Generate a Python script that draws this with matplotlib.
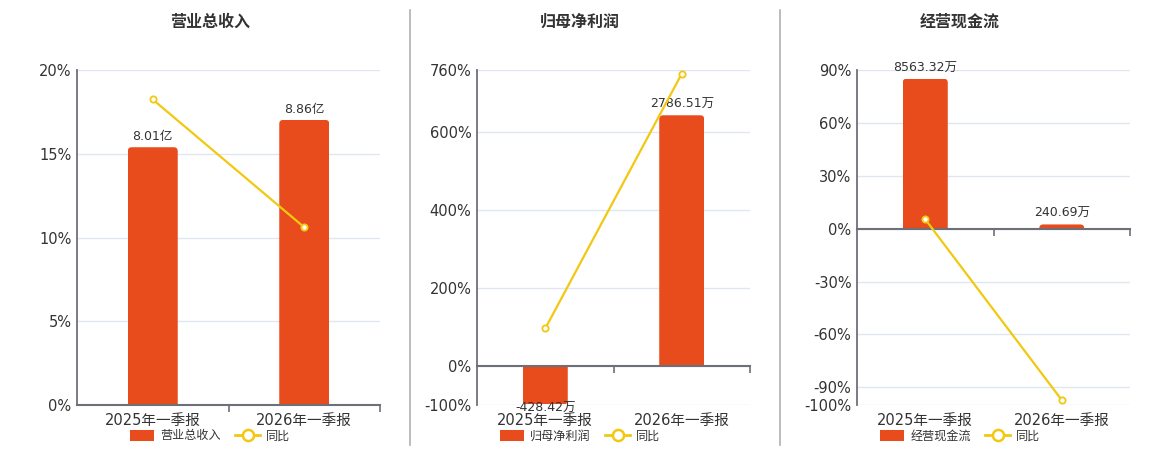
import matplotlib
matplotlib.use("Agg")
import matplotlib.pyplot as plt
from matplotlib.lines import Line2D
from matplotlib.patches import Patch, FancyBboxPatch

plt.rcParams['font.family'] = ['DejaVu Sans', 'Noto Sans CJK SC']
plt.rcParams['axes.unicode_minus'] = False

CATEGORIES = ["2025年一季报", "2026年一季报"]

TITLES = ["营业总收入", "归母净利润", "经营现金流"]

REVENUE = [8.01, 8.86]
REVENUE_LABELS = ["8.01亿", "8.86亿"]
REVENUE_YOY = [18.24, 10.61]

PROFIT = [-428.42, 2786.51]
PROFIT_LABELS = ["-428.42万", "2786.51万"]
PROFIT_YOY = [96.4, 750.4]

CASHFLOW = [8563.32, 240.69]
CASHFLOW_LABELS = ["8563.32万", "240.69万"]
CASHFLOW_YOY = [5.3, -97.19]

PCT_TICKS = [
    [0, 5, 10, 15, 20],
    [-100, 0, 200, 400, 600, 760],
    [-100, -90, -60, -30, 0, 30, 60, 90],
]

BAR_COLOR = "#e84c1d"
LINE_COLOR = "#f2c811"
AXIS_COLOR = "#6e7079"
GRID_COLOR = "#e0e6f1"
TEXT_COLOR = "#333333"

W, H = 1160, 450

fig = plt.figure(figsize=(W / 100, H / 100), dpi=100)

# pixel layout of each panel: (axes left, axes right, centre of title/legend)
panels = [
    (77, 380, 210),
    (477, 750, 580),
    (857, 1130, 960),
]
bar_ylims = [(0, 10.41), (-435, 3290), (-10070, 9060)]

data = [
    (REVENUE, REVENUE_LABELS, REVENUE_YOY),
    (PROFIT, PROFIT_LABELS, PROFIT_YOY),
    (CASHFLOW, CASHFLOW_LABELS, CASHFLOW_YOY),
]

x = list(range(len(CATEGORIES)))
top_px, bottom_px = 70, 405


def round_bar_ends(ax, bars, w_px, h_px, r_px=4):
    # swap each bar for a box with rounded outer end, clipped to the bar
    x0, x1 = ax.get_xlim()
    y0, y1 = ax.get_ylim()
    ux = (x1 - x0) / w_px
    uy = (y1 - y0) / h_px
    for rect in bars:
        bx, bw = rect.get_x(), rect.get_width()
        by, bh = rect.get_y(), rect.get_height()
        ext = r_px * uy
        if bh >= 0:
            start, height = by - ext, bh + ext
        else:
            start, height = by + bh, -bh + ext
        box = FancyBboxPatch((bx, start), bw, height,
                             boxstyle=f"round,pad=0,rounding_size={r_px * ux}",
                             mutation_aspect=uy / ux, facecolor=rect.get_facecolor(),
                             edgecolor="none", zorder=2)
        ax.add_patch(box)
        box.set_clip_path(rect)
        rect.set_facecolor("none")


for i, ((left, right, cx), (vals, labels, yoy)) in enumerate(zip(panels, data)):
    rect = [left / W, 1 - bottom_px / H, (right - left) / W, (bottom_px - top_px) / H]
    ax = fig.add_axes(rect)
    ticks = PCT_TICKS[i]
    ax.set_ylim(min(ticks), max(ticks))
    ax.set_xlim(-0.5, len(CATEGORIES) - 0.5)
    ax.set_yticks(ticks)
    ax.set_yticklabels([f"{t}%" for t in ticks])
    ax.yaxis.grid(True, color=GRID_COLOR, linewidth=1)
    ax.set_axisbelow(True)
    ax.set_xticks(x)
    ax.set_xticklabels(CATEGORIES)
    ax.tick_params(axis="x", length=0, pad=6, labelsize=10.5, colors=TEXT_COLOR)
    ax.tick_params(axis="y", length=0, pad=4, labelsize=10.5, colors=TEXT_COLOR)
    for s in ["top", "right", "bottom"]:
        ax.spines[s].set_visible(False)
    ax.spines["left"].set_color(AXIS_COLOR)
    ax.spines["left"].set_linewidth(1.3)

    # bars on a hidden twin axis
    axb = ax.twinx()
    axb.set_ylim(*bar_ylims[i])
    bars = axb.bar(x, vals, width=0.33, color=BAR_COLOR, linewidth=0, zorder=2)
    round_bar_ends(axb, bars, right - left, bottom_px - top_px)
    for xi, v, lab in zip(x, vals, labels):
        if v >= 0:
            axb.annotate(lab, (xi, v), xytext=(0, 3), textcoords="offset points",
                         ha="center", va="bottom", fontsize=9, color=TEXT_COLOR)
        else:
            axb.annotate(lab, (xi, v), xytext=(0, 2), textcoords="offset points",
                         ha="center", va="top", fontsize=9, color=TEXT_COLOR)
    axb.set_yticks([])
    for s in axb.spines.values():
        s.set_visible(False)

    # yoy line on its own overlay axes, same scale as the percent axis
    axl = fig.add_axes(rect, facecolor="none")
    axl.set_xlim(ax.get_xlim())
    axl.set_ylim(ax.get_ylim())
    axl.set_yticks([])
    for s in ["top", "right", "left"]:
        axl.spines[s].set_visible(False)
    axl.plot(x, yoy, color=LINE_COLOR, linewidth=1.6, marker="o", markersize=4.5,
             markerfacecolor="white", markeredgewidth=1.3, zorder=3)

    # category axis line at zero with boundary ticks
    axl.spines["bottom"].set_position(("data", 0))
    axl.spines["bottom"].set_color(AXIS_COLOR)
    axl.spines["bottom"].set_linewidth(1.5)
    axl.set_xticks([0.5, 1.5])
    axl.set_xticklabels(["", ""])
    axl.tick_params(axis="x", direction="out", length=5, width=1.2, color=AXIS_COLOR,
                    bottom=True, top=False)

    fig.text(cx / W, 1 - 22 / H, TITLES[i], ha="center", va="center",
             fontsize=11.5, fontweight="bold", color=TEXT_COLOR)

    handles = [
        Patch(facecolor=BAR_COLOR, edgecolor="none"),
        Line2D([0], [0], color=LINE_COLOR, linewidth=2, marker="o", markersize=8,
               markerfacecolor="white", markeredgewidth=1.8),
    ]
    fig.legend(handles, [TITLES[i], "同比"], loc="center",
               bbox_to_anchor=(cx / W, 1 - 436 / H), ncol=2, frameon=False,
               fontsize=8.7, labelcolor=TEXT_COLOR, handlelength=2.0,
               handleheight=1.1, handletextpad=0.5, columnspacing=1.2,
               borderpad=0, borderaxespad=0)

# panel separators
for sx in [410, 780]:
    fig.add_artist(Line2D([sx / W, sx / W], [1 - 445 / H, 1 - 10 / H],
                          color="#b0b0b0", linewidth=1.2))

fig.savefig("out.png", dpi=100, facecolor="white")
